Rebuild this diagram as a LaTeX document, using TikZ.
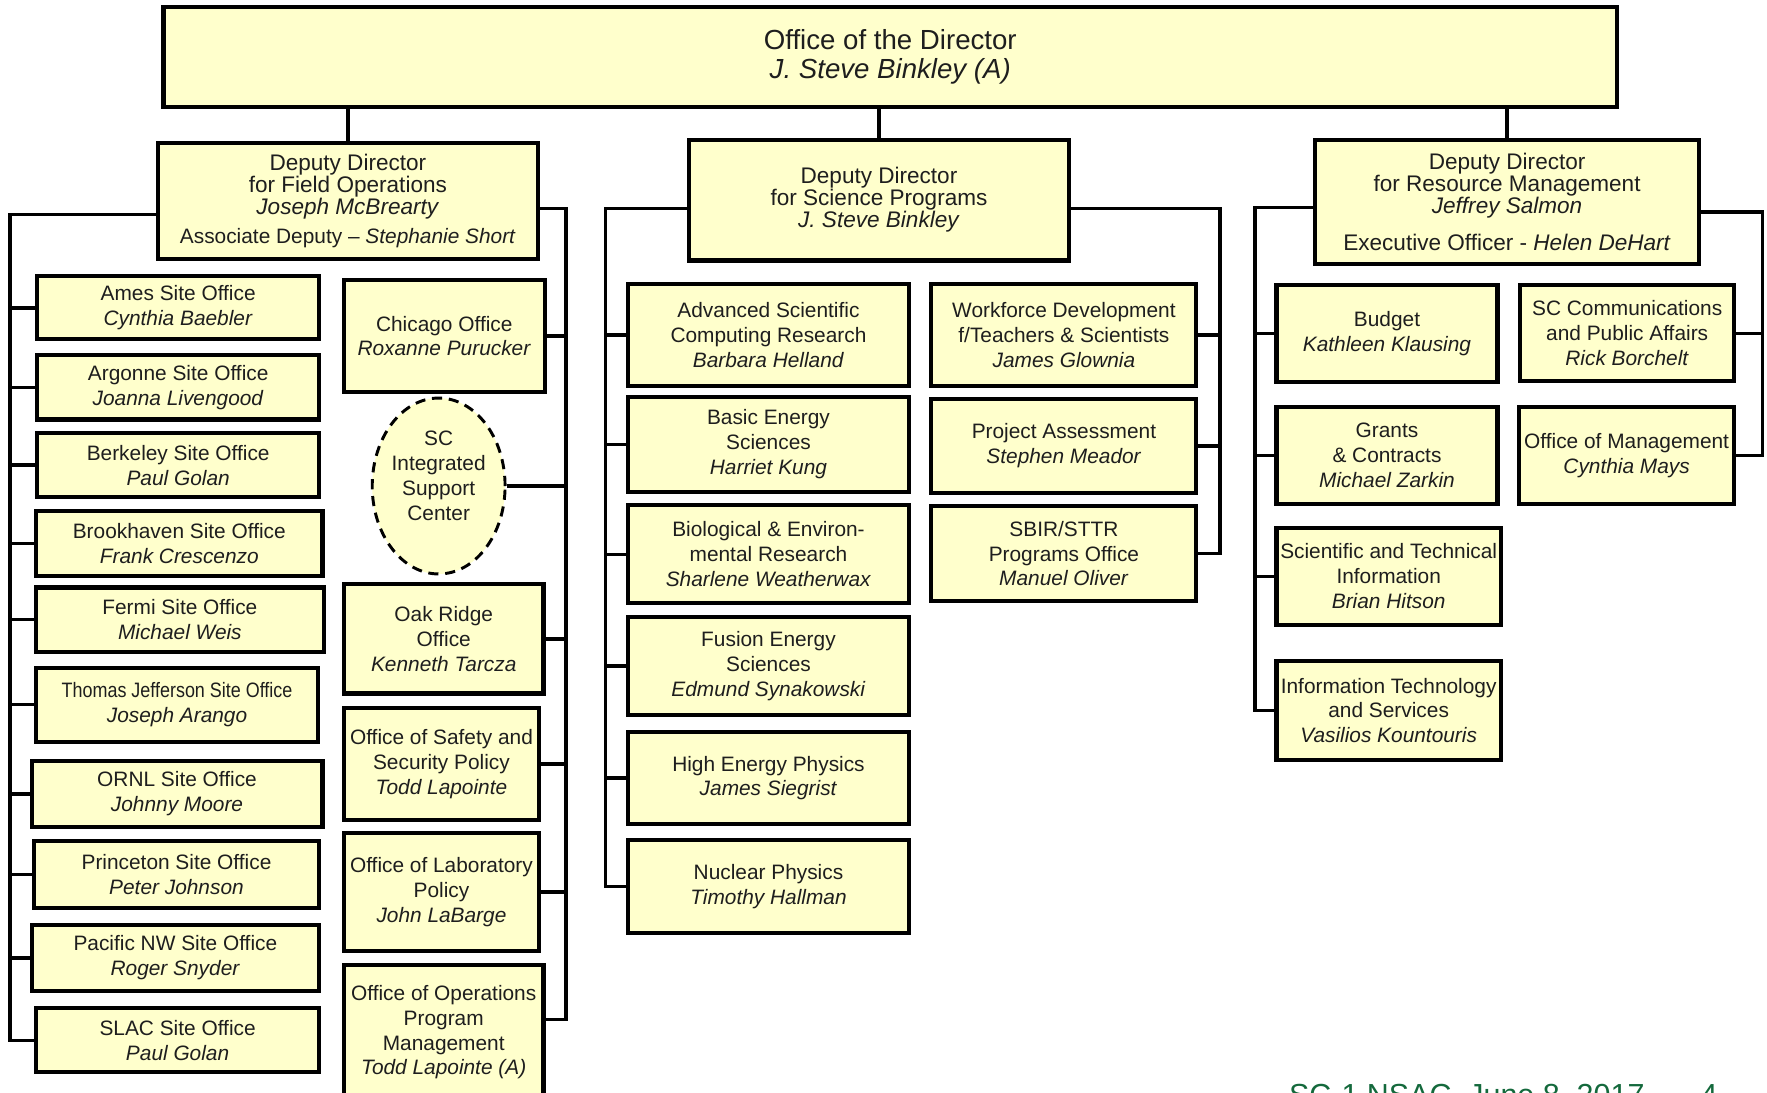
\documentclass[tikz,border=0pt]{standalone}
\usepackage{fontspec}
\setmainfont{Liberation Sans}
\usepackage{graphicx}
\usetikzlibrary{shapes.geometric}
\definecolor{boxfill}{RGB}{255,255,204}
\definecolor{txt}{RGB}{30,30,30}
\definecolor{footgreen}{RGB}{20,105,60}
\newcommand\orgbox[7][]{\node[orgb,#1, minimum width={#5-#3}, minimum height={#6-#4}] (#2) at ({(#3+#5)/2},{(#4+#6)/2}) {#7};}
\begin{document}
\begin{tikzpicture}[x=1pt,y=-1pt,
  orgb/.style={draw=black, line width=3.6pt, fill=boxfill, inner sep=0pt, align=center, text=txt, font=\fontsize{18.5}{22}\selectfont},
  depb/.style={font=\fontsize{20}{19.5}\selectfont},
  topb/.style={font=\fontsize{24.5}{25}\selectfont},
  conn/.style={line width=3pt, line join=miter, draw=black}]
\useasboundingbox (0,0) rectangle (1567,969);

% top
\orgbox[topb]{top}{145}{6}{1434}{95}{Office of the Director\\\textit{J. Steve Binkley (A)}}

% deputies
\orgbox[depb]{fo}{140}{127}{477}{230}{Deputy Director\\for Field Operations\\\textit{Joseph McBrearty}\\[6pt]{\fontsize{18.5}{19}\selectfont Associate Deputy -- \textit{Stephanie  Short}}}
\orgbox[depb]{sp}{611}{124}{948}{231}{Deputy Director\\for Science Programs\\\textit{J. Steve Binkley}}
\orgbox[depb]{rm}{1166}{124}{1507}{234}{Deputy Director\\for Resource Management\\\textit{Jeffrey Salmon}\\[13pt]Executive Officer - \textit{Helen DeHart}}

\draw[conn] (top.south -| fo.north) -- (fo.north);
\draw[conn] (top.south -| sp.north) -- (sp.north);
\draw[conn] (top.south -| rm.north) -- (rm.north);

% field operations - left column
\orgbox{ames}{33}{245}{283}{301}{Ames Site Office\\\textit{Cynthia Baebler}}
\orgbox{argonne}{33}{315}{283}{372}{Argonne  Site Office\\\textit{Joanna Livengood}}
\orgbox{berkeley}{33}{384}{283}{441}{Berkeley Site Office\\\textit{Paul Golan}}
\orgbox{brook}{32}{453}{286}{511}{Brookhaven  Site Office\\\textit{Frank Crescenzo}}
\orgbox{fermi}{32}{521}{287}{578}{Fermi Site Office\\\textit{Michael Weis}}
\orgbox{tj}{32}{592}{282}{658}{\scalebox{0.86}[1]{Thomas Jefferson Site Office}\\\textit{Joseph Arango}}
\orgbox{ornl}{28}{675}{286}{733}{ORNL  Site Office\\\textit{Johnny Moore}}
\orgbox{princeton}{30}{746}{283}{805}{Princeton Site Office\\\textit{Peter Johnson}}
\orgbox{pnw}{28}{820}{283}{879}{Pacific NW Site Office\\\textit{Roger Snyder}}
\orgbox{slac}{32}{894}{283}{951}{SLAC Site Office\\\textit{Paul Golan}}

% field operations - right column
\orgbox{chicago}{305}{248}{483}{348}{Chicago  Office\\\textit{Roxanne  Purucker}}
\node[ellipse, draw=black, line width=2.6pt, dash pattern=on 9pt off 6pt, fill=boxfill, minimum width=108, minimum height=156, inner sep=0pt, align=center, text=txt, font=\fontsize{18.5}{22}\selectfont] (isc) at (389,431) {SC\\Integrated\\Support\\Center\\[-4pt]\mbox{}};
\orgbox{oak}{305}{518}{482}{615}{Oak Ridge\\Office\\\textit{Kenneth  Tarcza}}
\orgbox{safety}{305}{628}{478}{727}{Office  of Safety and\\Security Policy\\\textit{Todd Lapointe}}
\orgbox{labpol}{305}{739}{478}{843}{Office  of  Laboratory\\Policy\\\textit{John LaBarge}}
\orgbox{ops}{305}{856}{482}{975}{Office  of Operations\\Program\\Management\\\textit{Todd Lapointe  (A)}}

\coordinate (foL) at (9,190);
\coordinate (foR) at (502,185);
\coordinate (foRb) at (502,904);
\draw[conn] (fo.west |- foL) -- (foL) -- (slac.west -| foL) -- (slac.west);
\foreach \n in {ames,argonne,berkeley,brook,fermi,tj,ornl,princeton,pnw}
  \draw[conn] (\n.west) -- (\n.west -| foL);
\draw[conn] (fo.east |- foR) -- (foR) -- (foRb) -- (foRb -| ops.east);
\foreach \n in {chicago,isc,oak,safety,labpol}
  \draw[conn] (\n.east) -- (\n.east -| foR);

% science programs
\orgbox{ascr}{557}{252}{806}{342}{Advanced  Scientific\\Computing  Research\\\textit{Barbara  Helland}}
\orgbox{bes}{557}{352}{806}{436}{Basic Energy\\Sciences\\\textit{Harriet  Kung}}
\orgbox{ber}{557}{448}{806}{535}{Biological \& Environ-\\mental Research\\\textit{Sharlene  Weatherwax}}
\orgbox{fes}{557}{547}{806}{634}{Fusion Energy\\Sciences\\\textit{Edmund  Synakowski}}
\orgbox{hep}{557}{649}{806}{731}{High Energy Physics\\\textit{James Siegrist}}
\orgbox{np}{557}{745}{806}{827}{Nuclear  Physics\\\textit{Timothy Hallman}}
\orgbox{wdts}{826}{252}{1061}{342}{Workforce  Development\\f/Teachers  \& Scientists\\\textit{James Glownia}}
\orgbox{pa}{826}{354}{1061}{437}{Project Assessment\\\textit{Stephen  Meador}}
\orgbox{sbir}{826}{449}{1061}{533}{SBIR/STTR\\Programs  Office\\\textit{Manuel  Oliver}}

\coordinate (spL) at (537,185);
\coordinate (spR) at (1082,185);
\draw[conn] (sp.west |- spL) -- (spL) -- (np.west -| spL) -- (np.west);
\foreach \n in {ascr,bes,ber,fes,hep}
  \draw[conn] (\n.west) -- (\n.west -| spL);
\draw[conn] (sp.east |- spR) -- (spR) -- (sbir.east -| spR) -- (sbir.east);
\foreach \n in {wdts,pa}
  \draw[conn] (\n.east) -- (\n.east -| spR);

% resource management
\orgbox{budget}{1132}{253}{1328}{339}{Budget\\\textit{Kathleen  Klausing}}
\orgbox{grants}{1132}{361}{1328}{447}{Grants\\\& Contracts\\\textit{Michael  Zarkin}}
\orgbox{sti}{1132}{468}{1331}{554}{Scientific and  Technical\\Information\\\textit{Brian  Hitson}}
\orgbox{it}{1132}{586}{1331}{674}{Information  Technology\\and Services\\\textit{Vasilios Kountouris}}
\orgbox{comm}{1348}{253}{1538}{338}{SC Communications\\and Public Affairs\\\textit{Rick Borchelt}}
\orgbox{mgmt}{1347}{361}{1538}{447}{Office  of Management\\\textit{Cynthia  Mays}}

\coordinate (rmL) at (1113,184);
\coordinate (rmR) at (1563,188);
\draw[conn] (rm.west |- rmL) -- (rmL) -- (it.west -| rmL) -- (it.west);
\foreach \n in {budget,grants,sti}
  \draw[conn] (\n.west) -- (\n.west -| rmL);
\draw[conn] (rm.east |- rmR) -- (rmR) -- (mgmt.east -| rmR) -- (mgmt.east);
\draw[conn] (comm.east) -- (comm.east -| rmR);

% footer (cut by page edge, as in the reference)
\node[anchor=base west, inner sep=0pt, text=footgreen, font=\fontsize{27}{27}\selectfont] (foot) at (1143,980) {SC-1 NSAC,  June 8, 2017};
\node[anchor=base west, inner sep=0pt, text=footgreen, font=\fontsize{27}{27}\selectfont] (page) at (1508,980) {4};
\end{tikzpicture}
\end{document}
